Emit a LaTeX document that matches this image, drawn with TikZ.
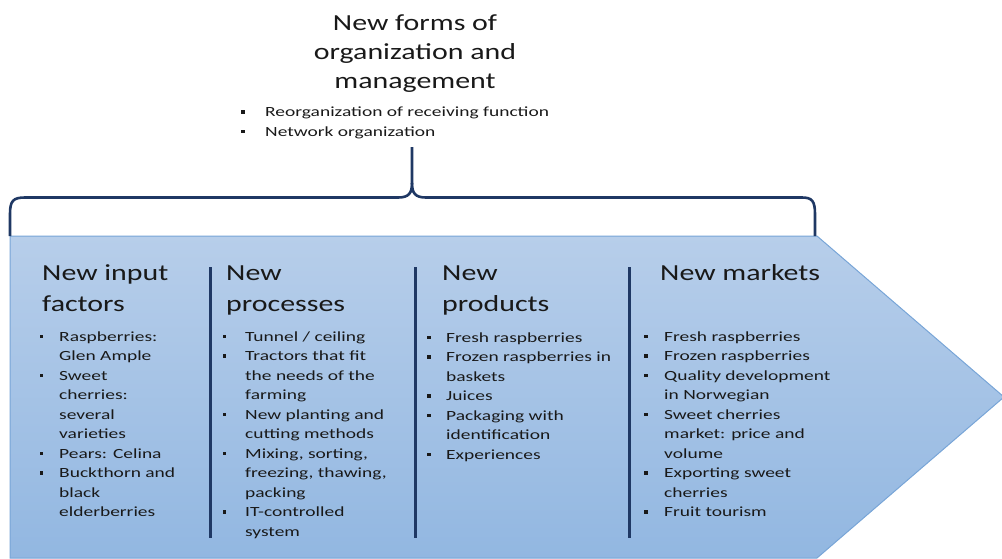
\documentclass[tikz,border=0pt]{standalone}
\usepackage{fontspec}
\setmainfont[FakeStretch=1.3]{Carlito}
\newfontfamily\bodyfont[FakeStretch=1.39]{Carlito}
\definecolor{navy}{RGB}{31,56,100}
\definecolor{topblue}{RGB}{183,206,234}
\definecolor{botblue}{RGB}{146,183,225}
\definecolor{edgeblue}{RGB}{120,165,215}
\definecolor{txt}{RGB}{25,25,25}
\newcommand\bstrut{\rule{0pt}{11pt}}
\newcommand\hstrut{\rule{0pt}{20pt}}
\tikzset{
  bul/.style={fill=txt, minimum size=3.6pt, inner sep=0pt, anchor=center},
  itm/.style={anchor=north west, inner sep=0pt, align=left, text=txt, font=\bodyfont\fontsize{14}{19.5}\selectfont},
  head/.style={anchor=north west, inner sep=0pt, align=left, text=txt, font=\fontsize{23}{30.5}\selectfont},
  divider/.style={draw=navy, line width=3pt},
  bracepath/.style={draw=navy, line width=2.6pt, line join=round}
}
% #1 name, #2 bullet x, #3 text x, #4 baseline of first line, #5 text
\newcommand\bitem[5]{%
  \node[bul] (#1b) at (#2,#4-4.6) {};
  \node[itm] (#1) at (#3,#4-11) {\bstrut#5};
}
\begin{document}
\begin{tikzpicture}[x=1pt,y=-1pt]
\useasboundingbox (0,0) rectangle (1002,558);
% arrow shape
\shade[top color=topblue, bottom color=botblue, draw=edgeblue, line width=1pt]
  (10,236) -- (817,236) -- (1004,397) -- (817,558) -- (10,558) -- cycle;
% brace
\draw[bracepath] (10,236) -- (10,214) .. controls (10,201) and (13,197.5) .. (25,197.5)
  -- (398,197.5) .. controls (409,197.5) and (412,193) .. (412,183) -- (412,147);
\draw[bracepath] (412,183) .. controls (412,193) and (415,197.5) .. (426,197.5)
  -- (802,197.5) .. controls (812,197.5) and (815,201) .. (815,214) -- (815,236);
% title
\node[inner sep=0pt, align=center, text=txt, font=\fontsize{23}{29}\selectfont, anchor=north]
  (title) at (415,10) {\hstrut New forms of\\organization and\\management};
\bitem{t1}{243}{265}{116.5}{Reorganization of receiving function}
\bitem{t2}{243}{265}{136.2}{Network organization}
% dividers
\draw[divider] (210.7,267) coordinate (d1t) -- (210.7,538) coordinate (d1b);
\draw[divider] (415,267) coordinate (d2t) -- (415,538) coordinate (d2b);
\draw[divider] (629,267) coordinate (d3t) -- (629,538) coordinate (d3b);
% headings
\node[head] (h1) at (42,260.7) {\hstrut New input\\factors};
\node[head] (h2) at (226,260.7) {\hstrut New\\processes};
\node[head] (h3) at (442,260.7) {\hstrut New\\products};
\node[head] (h4) at (660,260.7) {\hstrut New markets};
% column 1
\bitem{a1}{41.5}{59}{341}{Raspberries:\\Glen Ample}
\bitem{a2}{41.5}{59}{380}{Sweet\\cherries:\\several\\varieties}
\bitem{a3}{41.5}{59}{458}{Pears: Celina}
\bitem{a4}{41.5}{59}{477.5}{Buckthorn and\\black\\elderberries}
% column 2
\bitem{b1}{224.5}{245}{341}{Tunnel / ceiling}
\bitem{b2}{224.5}{245}{360.5}{Tractors that fit\\the needs of the\\farming}
\bitem{b3}{224.5}{245}{419}{New planting and\\cutting methods}
\bitem{b4}{224.5}{245}{458}{Mixing, sorting,\\freezing, thawing,\\packing}
\bitem{b5}{224.5}{245}{516.5}{IT-controlled\\system}
% column 3
\bitem{c1}{429}{446}{342}{Fresh raspberries}
\bitem{c2}{429}{446}{361.5}{Frozen raspberries in\\baskets}
\bitem{c3}{429}{446}{400.5}{Juices}
\bitem{c4}{429}{446}{420}{Packaging with\\identification}
\bitem{c5}{429}{446}{459}{Experiences}
% column 4
\bitem{m1}{646}{664}{341}{Fresh raspberries}
\bitem{m2}{646}{664}{360.5}{Frozen raspberries}
\bitem{m3}{646}{664}{380}{Quality development\\in Norwegian}
\bitem{m4}{646}{664}{419}{Sweet cherries\\market: price and\\volume}
\bitem{m5}{646}{664}{477.5}{Exporting sweet\\cherries}
\bitem{m6}{646}{664}{516.5}{Fruit tourism}
\end{tikzpicture}
\end{document}
